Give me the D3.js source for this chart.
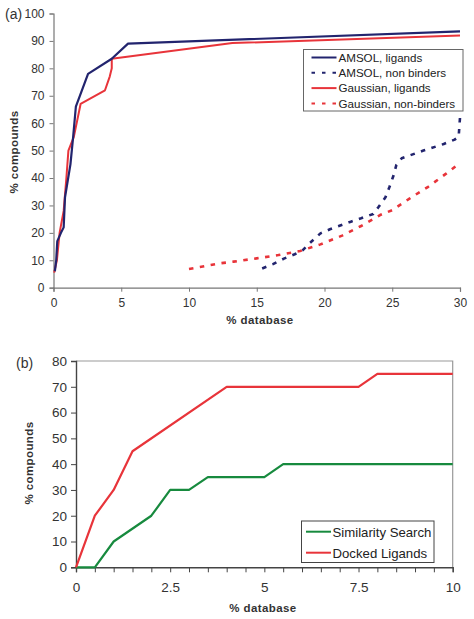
<!DOCTYPE html>
<html><head><meta charset="utf-8">
<script src="https://cdn.jsdelivr.net/npm/d3@7"></script>
<style>body{margin:0;background:#fff;}svg{display:block;font-family:"Liberation Sans",Arial,sans-serif;}</style>
</head><body>
<script>
// ---------- DATA ----------
// Panel (a): [% database, % compounds]
const amsolLigands = [[0.1,6],[0.2,10],[0.28,17],[0.55,20],[0.75,22],[0.85,33],[1.25,45],[1.45,55],[1.65,66],[2.55,78],[4.3,83.5],[5.5,89],[30,93.5]];
const gaussLigands = [[0.05,5.5],[0.25,10],[0.45,20],[0.75,28],[0.95,40],[1.1,50],[1.5,55],[2.0,67],[3.8,72],[4.15,77],[4.3,80],[4.3,83.5],[13.2,89.2],[30,92]];
const amsolNonBinders = [[15.4,7],[16.2,8.6],[17,10.6],[17.8,12.2],[18.4,13.7],[18.9,16.2],[19.7,19.8],[20.4,21.3],[21.9,24],[22.7,25.3],[23.6,26.9],[24,29.5],[24.5,33],[24.8,36.8],[25.1,41],[25.3,44.7],[25.7,47.2],[27.3,50],[28.8,52.4],[29.6,54],[29.9,55],[30,62]];
const gaussNonBinders = [[10,6.8],[12.3,8.9],[13.3,9.5],[15,10.7],[16.6,11.9],[18.2,13.4],[19.7,15.8],[21.3,19],[22.7,22.5],[24.1,26.5],[25,28.3],[26.3,32.6],[27.65,36.8],[29,41.7],[30,45.5]];
const legendA = ["AMSOL, ligands","AMSOL, non binders","Gaussian, ligands","Gaussian, non-binders"];
const yTicksA = [0,10,20,30,40,50,60,70,80,90,100];
const xTicksA = [0,5,10,15,20,25,30];

// Panel (b)
const similaritySearch = [[0,0],[0.5,0],[1,10],[2,20],[2.5,30],[3,30],[3.5,35],[5,35],[5.5,40],[10,40]];
const dockedLigands = [[0,0],[0.5,20],[1,30],[1.5,45],[4,70],[7.5,70],[8,75],[10,75]];
const legendB = ["Similarity Search","Docked Ligands"];
const yTicksB = [0,10,20,30,40,50,60,70,80];
const xTicksB = [0,2.5,5,7.5,10];
const xMinorB = d3.range(0,10.01,0.5);

// ---------- STYLE ----------
const NAVY="#22246e", RED="#e8343a", GREEN="#178a3e", AXIS="#777";
const DOT="4.5,6.5";

const svg = d3.select("body").append("svg").attr("width",474).attr("height",619);

// ===== Panel (a) =====
const xa = d3.scaleLinear().domain([0,30]).range([53.5,460]);
const ya = d3.scaleLinear().domain([0,100]).range([287.7,13.5]);
const ga = svg.append("g");

const axA = ga.append("g").attr("transform",`translate(0,${ya(0)})`)
  .call(d3.axisBottom(xa).tickValues(xTicksA).tickSize(4).tickPadding(7));
const ayA = ga.append("g").attr("transform",`translate(${xa(0)},0)`)
  .call(d3.axisLeft(ya).tickValues(yTicksA).tickSize(4).tickPadding(5));
[axA,ayA].forEach(a=>{
  a.select(".domain").attr("stroke",AXIS).attr("stroke-width",1.2);
  a.selectAll(".tick line").attr("stroke",AXIS);
  a.selectAll("text").attr("font-size",12).attr("fill","#333").attr("font-family","Liberation Sans, Arial, sans-serif");
});

const lineA = d3.line().x(d=>xa(d[0])).y(d=>ya(d[1]));
const seriesA = [
  {d:amsolNonBinders,c:NAVY,dash:DOT,w:2.6},
  {d:gaussNonBinders,c:RED,dash:DOT,w:2.6},
  {d:gaussLigands,c:RED,dash:null,w:2},
  {d:amsolLigands,c:NAVY,dash:null,w:2.2}
];
seriesA.forEach(s=>{
  ga.append("path").datum(s.d).attr("d",lineA).attr("fill","none")
    .attr("stroke",s.c).attr("stroke-width",s.w).attr("stroke-linejoin","round")
    .attr("stroke-dasharray",s.dash);
});

// legend a
const lgA = ga.append("g");
lgA.append("rect").attr("x",303.5).attr("y",49.5).attr("width",159.5).attr("height",61.5)
  .attr("fill","#fff").attr("stroke","#666").attr("stroke-width",1);
const legStyleA = [{c:NAVY,dash:null},{c:NAVY,dash:"3.5,7"},{c:RED,dash:null},{c:RED,dash:"3.5,7"}];
legendA.forEach((t,i)=>{
  const y = 57.5 + i*15.3;
  lgA.append("line").attr("x1",311.5).attr("x2",336.5).attr("y1",y).attr("y2",y)
    .attr("stroke",legStyleA[i].c).attr("stroke-width",2).attr("stroke-dasharray",legStyleA[i].dash);
  lgA.append("text").attr("x",338.5).attr("y",y+4.2).attr("font-size",11.6).attr("fill","#222")
    .text(t);
});

ga.append("text").attr("x",260).attr("y",323.5).attr("text-anchor","middle")
  .attr("font-size",11.5).attr("font-weight","bold").attr("fill","#333").attr("letter-spacing",0.4).text("% database");
ga.append("text").attr("transform","translate(18,152) rotate(-90)").attr("text-anchor","middle")
  .attr("font-size",11.5).attr("font-weight","bold").attr("fill","#333").attr("letter-spacing",0.4).text("% compounds");
ga.append("text").attr("x",5).attr("y",18.5).attr("font-size",14).attr("fill","#333").text("(a)");

// ===== Panel (b) =====
const xb = d3.scaleLinear().domain([0,10]).range([76,452.7]);
const yb = d3.scaleLinear().domain([0,80]).range([567.3,361]);
const gb = svg.append("g");

// frame (top & right)
gb.append("path").attr("d",`M${xb(0)},${yb(80)}H${xb(10)}V${yb(0)}`)
  .attr("fill","none").attr("stroke","#999").attr("stroke-width",1.2);

const axB = gb.append("g").attr("transform",`translate(0,${yb(0)})`)
  .call(d3.axisBottom(xb).tickValues(xMinorB).tickSize(5).tickFormat(""));
const axBl = gb.append("g").attr("transform",`translate(0,${yb(0)})`)
  .call(d3.axisBottom(xb).tickValues(xTicksB).tickSize(0).tickPadding(15).tickFormat(d3.format("")));
axBl.select(".domain").remove();
const ayB = gb.append("g").attr("transform",`translate(${xb(0)},0)`)
  .call(d3.axisLeft(yb).tickValues(yTicksB).tickSize(5).tickPadding(4));
[axB,ayB].forEach(a=>{
  a.select(".domain").attr("stroke","#444").attr("stroke-width",1.4);
  a.selectAll(".tick line").attr("stroke","#444");
});
[axBl,ayB].forEach(a=>{
  a.selectAll("text").attr("font-size",13.5).attr("fill","#333").attr("font-family","Liberation Sans, Arial, sans-serif");
});

const lineB = d3.line().x(d=>xb(d[0])).y(d=>yb(d[1]));
[{d:similaritySearch,c:GREEN},{d:dockedLigands,c:RED}].forEach(s=>{
  gb.append("path").datum(s.d).attr("d",lineB).attr("fill","none")
    .attr("stroke",s.c).attr("stroke-width",2.2).attr("stroke-linejoin","round");
});

const lgB = gb.append("g");
lgB.append("rect").attr("x",301.5).attr("y",521).attr("width",132.5).attr("height",41.5)
  .attr("fill","#fff").attr("stroke","#444").attr("stroke-width",1);
[GREEN,RED].forEach((c,i)=>{
  const y = 531.7 + i*21;
  lgB.append("line").attr("x1",306).attr("x2",331).attr("y1",y).attr("y2",y).attr("stroke",c).attr("stroke-width",2);
  lgB.append("text").attr("x",332.5).attr("y",y+4.8).attr("font-size",13.2).attr("fill","#222").text(legendB[i]);
});

gb.append("text").attr("x",263).attr("y",611.5).attr("text-anchor","middle")
  .attr("font-size",11.5).attr("font-weight","bold").attr("fill","#333").attr("letter-spacing",0.4).text("% database");
gb.append("text").attr("transform","translate(33,463) rotate(-90)").attr("text-anchor","middle")
  .attr("font-size",11.5).attr("font-weight","bold").attr("fill","#333").attr("letter-spacing",0.4).text("% compounds");
gb.append("text").attr("x",16).attr("y",368).attr("font-size",14).attr("fill","#333").text("(b)");
</script>
</body></html>
